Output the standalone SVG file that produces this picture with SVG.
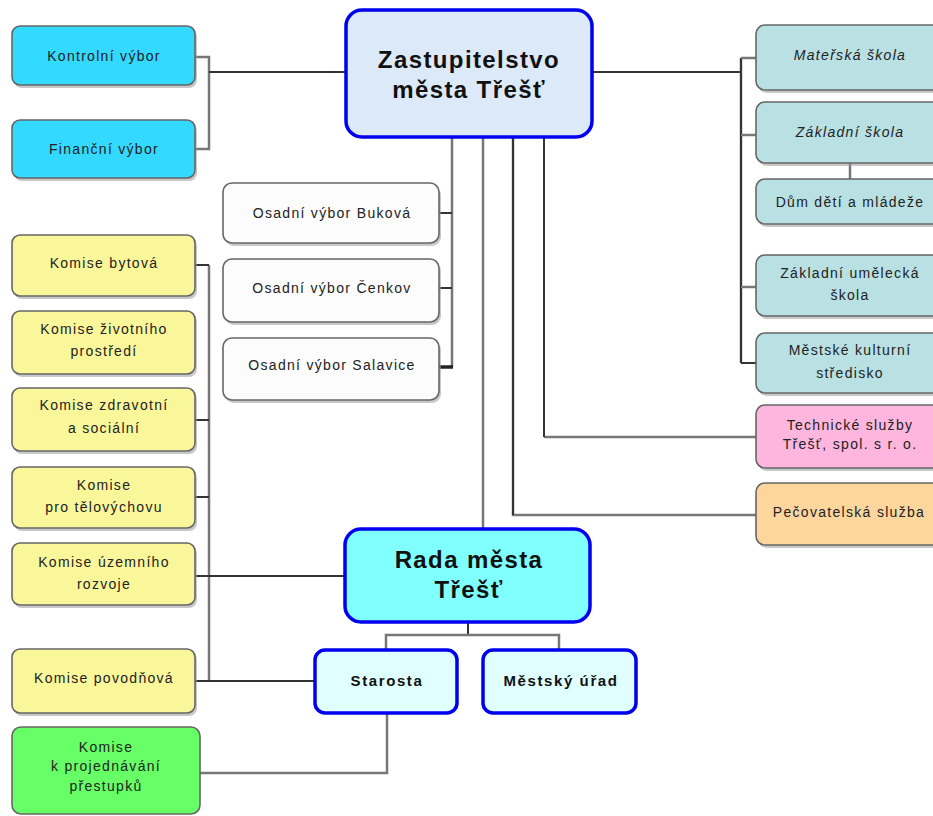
<svg xmlns="http://www.w3.org/2000/svg" width="933" height="816" viewBox="0 0 933 816">
<style>
.sh{fill:#9a9a9a;opacity:0.55}
.b{stroke:#666;stroke-width:1.6}
.bb{stroke:#0000ee;stroke-width:3.5}
.t{font-family:"Liberation Sans",Arial,sans-serif;font-size:14px;fill:#222;text-anchor:middle;letter-spacing:1.3px}
.tb{font-family:"Liberation Sans",Arial,sans-serif;font-size:15px;font-weight:bold;fill:#111;text-anchor:middle;letter-spacing:1.6px}
.tt{font-family:"Liberation Sans",Arial,sans-serif;font-size:24px;font-weight:bold;fill:#111;text-anchor:middle;letter-spacing:1.4px}
.g{fill:none;stroke:#777;stroke-width:2.5}
.d{fill:none;stroke:#333;stroke-width:2}
.cy{fill:#33d9ff}.ye{fill:#faf79a}.te{fill:#b9e0e3}.wh{fill:#fcfcfc}
</style>
<rect width="933" height="816" fill="#ffffff"/>
<g id="connectors">
<path class="g" d="M195,57 H209 V149 H195"/>
<path class="d" d="M209,72 H346"/>
<path class="d" d="M592,72 H741"/>
<path class="g" d="M741,58 V363"/>
<path class="d" d="M741,58 V363"/>
<path class="g" d="M741,58 H756 M741,135 H756 M741,287 H756"/>
<path class="d" d="M741,363 H756"/>
<path class="g" d="M850,163 V179"/>
<path class="g" d="M452,137 V367"/>
<path class="d" d="M439,213 H452 M439,288 H452"/>
<path fill="none" stroke="#222" stroke-width="3.5" d="M439,367 H453"/>
<path class="g" d="M483,137 V528"/>
<path class="g" d="M513,137 V515 H756"/>
<path class="d" d="M513,137 V515"/>
<path class="g" d="M544,437 H756"/>
<path class="d" d="M544,137 V437"/>
<path class="g" d="M209,265 V681"/>
<path class="d" d="M195,265 H209 M195,420 H209 M195,497 H209"/>
<path class="d" d="M195,576 H346"/>
<path class="d" d="M195,681 H315"/>
<path class="d" d="M468,622 V635"/>
<path class="g" d="M386,649 V635 H559 V649"/>
<path class="g" d="M200,773 H387 V713"/>
</g>
<g id="kontrolni"><rect class="sh" x="14" y="29" width="183" height="59" rx="8"/><rect class="b cy" x="12" y="26" width="183" height="59" rx="8"/><text class="t" x="104" y="61">Kontrolní výbor</text></g>
<g id="financni"><rect class="sh" x="14" y="123" width="183" height="58" rx="8"/><rect class="b cy" x="12" y="120" width="183" height="58" rx="8"/><text class="t" x="104" y="154">Finanční výbor</text></g>
<g id="zastupitelstvo"><rect x="346" y="10" width="246" height="127" rx="16" fill="#dce9f9" class="bb"/><text class="tt" x="469" y="68">Zastupitelstvo</text><text class="tt" x="469" y="98">města Třešť</text></g>
<g id="materska"><rect class="sh" x="758" y="28" width="185" height="65" rx="9"/><rect class="b te" x="756" y="25" width="185" height="65" rx="9"/><text class="t" x="850" y="60" font-style="italic">Mateřská škola</text></g>
<g id="zakladni"><rect class="sh" x="758" y="105" width="185" height="61" rx="9"/><rect class="b te" x="756" y="102" width="185" height="61" rx="9"/><text class="t" x="850" y="137" font-style="italic">Základní škola</text></g>
<g id="ddm"><rect class="sh" x="758" y="182" width="185" height="45" rx="9"/><rect class="b te" x="756" y="179" width="185" height="45" rx="9"/><text class="t" x="850" y="207">Dům dětí a mládeže</text></g>
<g id="zus"><rect class="sh" x="758" y="258" width="185" height="61" rx="9"/><rect class="b te" x="756" y="255" width="185" height="61" rx="9"/><text class="t" x="850" y="278">Základní umělecká</text><text class="t" x="850" y="300">škola</text></g>
<g id="mks"><rect class="sh" x="758" y="336" width="185" height="60" rx="9"/><rect class="b te" x="756" y="333" width="185" height="60" rx="9"/><text class="t" x="850" y="355">Městské kulturní</text><text class="t" x="850" y="378">středisko</text></g>
<g id="technicke"><rect class="sh" x="758" y="408" width="185" height="63" rx="9"/><rect class="b" fill="#ffb6de" x="756" y="405" width="185" height="63" rx="9"/><text class="t" x="850" y="430">Technické služby</text><text class="t" x="850" y="449">Třešť, spol. s r. o.</text></g>
<g id="pecovatelska"><rect class="sh" x="758" y="486" width="185" height="62" rx="9"/><rect class="b" fill="#fdd69e" x="756" y="483" width="185" height="62" rx="9"/><text class="t" x="849" y="517">Pečovatelská služba</text></g>
<g id="bukova"><rect class="sh" x="225" y="186" width="216" height="60" rx="9"/><rect class="b wh" x="223" y="183" width="216" height="60" rx="9"/><text class="t" x="332" y="218" font-size="13">Osadní výbor Buková</text></g>
<g id="cenkov"><rect class="sh" x="225" y="262" width="216" height="63" rx="9"/><rect class="b wh" x="223" y="259" width="216" height="63" rx="9"/><text class="t" x="332" y="293" font-size="13">Osadní výbor Čenkov</text></g>
<g id="salavice"><rect class="sh" x="225" y="341" width="216" height="62" rx="9"/><rect class="b wh" x="223" y="338" width="216" height="62" rx="9"/><text class="t" x="332" y="370">Osadní výbor Salavice</text></g>
<g id="bytova"><rect class="sh" x="14" y="238" width="183" height="61" rx="8"/><rect class="b ye" x="12" y="235" width="183" height="61" rx="8"/><text class="t" x="104" y="268">Komise bytová</text></g>
<g id="zivotni"><rect class="sh" x="14" y="314" width="183" height="63" rx="8"/><rect class="b ye" x="12" y="311" width="183" height="63" rx="8"/><text class="t" x="104" y="334">Komise životního</text><text class="t" x="104" y="356">prostředí</text></g>
<g id="zdravotni"><rect class="sh" x="14" y="391" width="183" height="63" rx="8"/><rect class="b ye" x="12" y="388" width="183" height="63" rx="8"/><text class="t" x="104" y="410">Komise zdravotní</text><text class="t" x="104" y="433">a sociální</text></g>
<g id="telovychova"><rect class="sh" x="14" y="470" width="183" height="61" rx="8"/><rect class="b ye" x="12" y="467" width="183" height="61" rx="8"/><text class="t" x="104" y="490">Komise</text><text class="t" x="104" y="512">pro tělovýchovu</text></g>
<g id="uzemni"><rect class="sh" x="14" y="546" width="183" height="62" rx="8"/><rect class="b ye" x="12" y="543" width="183" height="62" rx="8"/><text class="t" x="104" y="567">Komise územního</text><text class="t" x="104" y="589">rozvoje</text></g>
<g id="povodnova"><rect class="sh" x="14" y="652" width="183" height="64" rx="8"/><rect class="b ye" x="12" y="649" width="183" height="64" rx="8"/><text class="t" x="104" y="683">Komise povodňová</text></g>
<g id="prestupky"><rect class="b" fill="#66ff66" x="12" y="727" width="188" height="87" rx="9"/><text class="t" x="106" y="752">Komise</text><text class="t" x="106" y="771">k projednávání</text><text class="t" x="106" y="791">přestupků</text></g>
<g id="rada"><rect x="345" y="529" width="245" height="93" rx="16" fill="#80ffff" class="bb"/><text class="tt" x="469" y="568">Rada města</text><text class="tt" x="469" y="598">Třešť</text></g>
<g id="starosta"><rect x="315" y="650" width="142" height="63" rx="10" fill="#e0ffff" class="bb" stroke-width="3"/><text class="tb" x="387" y="686">Starosta</text></g>
<g id="urad"><rect x="483" y="650" width="153" height="63" rx="10" fill="#e0ffff" class="bb" stroke-width="3"/><text class="tb" x="561" y="686">Městský úřad</text></g>
</svg>
